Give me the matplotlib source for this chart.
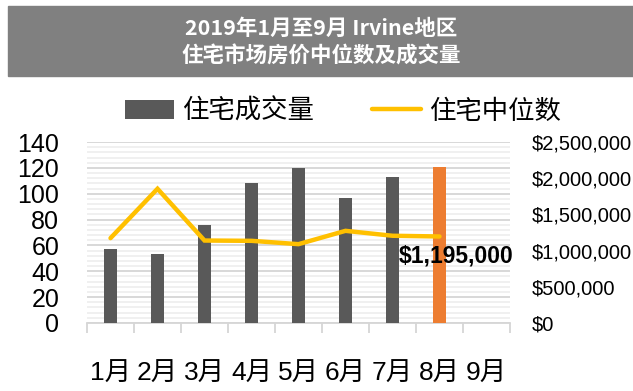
import matplotlib
matplotlib.use("Agg")
import matplotlib.pyplot as plt
from matplotlib.patches import Rectangle
from matplotlib.ticker import MultipleLocator, FuncFormatter

plt.rcParams['font.family'] = ['Liberation Sans', 'Noto Sans CJK SC']

months = ['1月', '2月', '3月', '4月', '5月', '6月', '7月', '8月', '9月']
volume = [57, 53, 76, 108, 120, 97, 113, 121]
median_price = [1172000, 1854000, 1139000, 1135000, 1089000, 1273000, 1205000, 1195000]
bar_colors = ['#595959'] * 7 + ['#ED7D31']

fig = plt.figure(figsize=(6.33, 3.91), dpi=100)

# title box
fig.patches.append(Rectangle((8 / 633, 1 - 76 / 391), 1 - 8 / 633, 70 / 391,
                             transform=fig.transFigure, color='#808080', zorder=0))
fig.text(0.508, 1 - 28 / 391, '2019年1月至9月 Irvine地区', color='white', fontsize=15.5,
         fontweight='bold', family='Noto Sans CJK SC', ha='center', va='center')
fig.text(0.508, 1 - 56 / 391, '住宅市场房价中位数及成交量', color='white', fontsize=15.5,
         fontweight='bold', family='Noto Sans CJK SC', ha='center', va='center')

ax = fig.add_axes([87 / 633, 1 - 323 / 391, 423 / 633, 181 / 391])
x = list(range(len(months)))
bars = ax.bar(x[:len(volume)], volume, width=0.27, color=bar_colors, zorder=3, label='住宅成交量')

ax.set_xlim(-0.5, len(months) - 0.5)
ax.set_ylim(0, 140)
ax.yaxis.set_major_locator(MultipleLocator(20))
ax.yaxis.set_minor_locator(MultipleLocator(4))
ax.grid(axis='y', which='major', color='#d6d6d6', lw=1.3, zorder=1)
ax.grid(axis='y', which='minor', color='#eeeeee', lw=1.2, zorder=0)
ax.set_xticks(x)
ax.set_xticklabels(months, fontsize=19)
ax.set_xticks([i - 0.5 for i in range(len(months) + 1)], minor=True)
ax.tick_params(axis='x', which='major', length=0, pad=28)
ax.tick_params(axis='x', which='minor', length=7, width=1.3, color='#d6d6d6')
ax.tick_params(axis='y', which='both', length=0)
ax.tick_params(axis='y', which='major', labelsize=18, pad=20)
for s in ['top', 'right', 'left']:
    ax.spines[s].set_visible(False)
ax.spines['bottom'].set_color('#d6d6d6')
ax.spines['bottom'].set_linewidth(1.3)

ax2 = ax.twinx()
line, = ax2.plot(x[:len(median_price)], median_price, color='#FFC000', lw=3.2, zorder=4,
                 solid_capstyle='round', solid_joinstyle='miter', label='住宅中位数')
ax2.set_ylim(0, 2500000)
ax2.yaxis.set_major_locator(MultipleLocator(500000))
ax2.yaxis.set_major_formatter(FuncFormatter(lambda v, p: '${:,.0f}'.format(v)))
ax2.tick_params(axis='y', length=0, labelsize=14.5, pad=15.5)
for s in ['top', 'right', 'left', 'bottom']:
    ax2.spines[s].set_visible(False)

ax2.annotate('${:,.0f}'.format(median_price[-1]), (x[len(median_price) - 1], median_price[-1]),
             xytext=(12, -14), textcoords='offset points', ha='center', va='center',
             fontsize=16.5, fontweight='bold', zorder=6)

fig.legend(handles=[bars, line], loc='center', bbox_to_anchor=(0.542, 1 - 111 / 391),
           ncol=2, frameon=False, fontsize=19, handlelength=1.85, handletextpad=0.3,
           columnspacing=2.2)

fig.savefig('out.png', dpi=100)
